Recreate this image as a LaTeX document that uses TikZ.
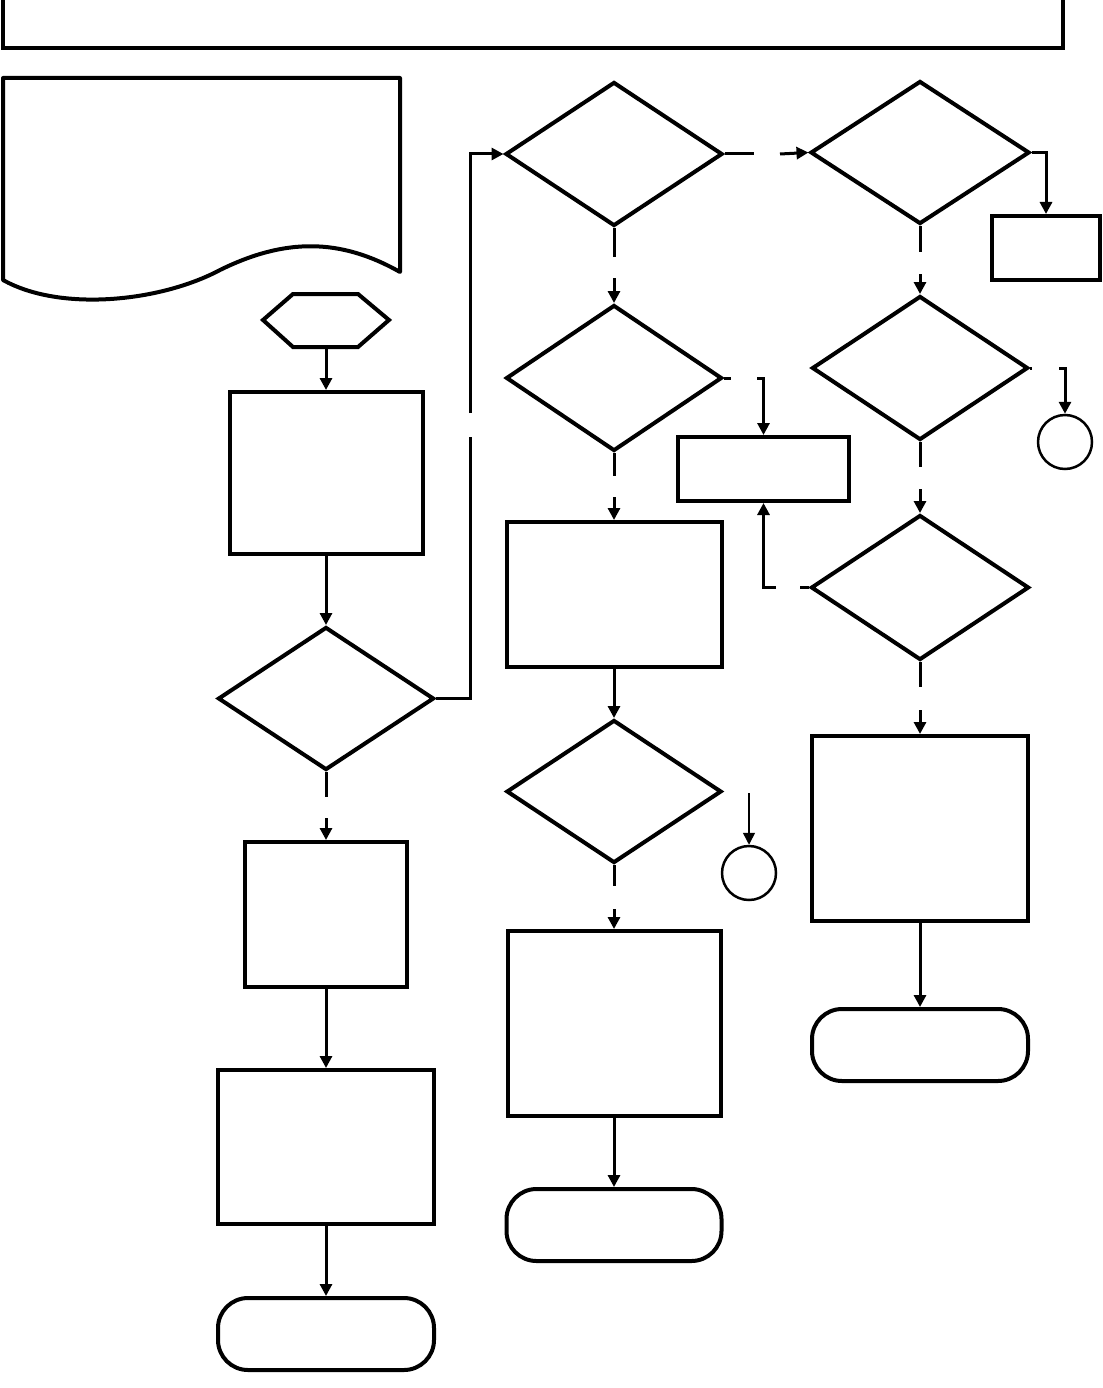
\documentclass[tikz,border=0pt]{standalone}
\usetikzlibrary{arrows.meta,shapes.geometric}
\begin{document}
\begin{tikzpicture}[x=1pt,y=-1pt,
  shp/.style={draw,line width=4pt,inner sep=0pt},
  procbox/.style={shp,rectangle,minimum width=#1},
  dec/.style={shp,diamond,minimum width=#1},
  term/.style={shp,rectangle,rounded corners=30pt,minimum width=#1},
  conn/.style={draw,circle,line width=2.5pt,minimum size=54pt,inner sep=0pt},
  ln/.style={line width=3pt},
  arr/.style={line width=3pt,-{Triangle[length=12pt,width=12pt]}},
  thinarr/.style={line width=1.5pt,-{Triangle[length=12pt,width=12pt]}}]
\useasboundingbox (0,0) rectangle (1102,1388);
% title box
\draw[line width=4pt] (3,-20) rectangle (1063,48);
% document shape
\draw[line width=4pt,line join=round] (3,78) -- (400,78) -- (400,272)
  .. controls (340,238) and (285,238) .. (220,270)
  .. controls (160,302) and (60,312) .. (3,280) -- cycle;
% hexagon
\draw[line width=4pt] (263,320) -- (293,294) -- (358,294) -- (389,320) -- (358,347) -- (293,347) -- cycle;
\coordinate (hexb) at (326,347);
% column 1
\node[procbox=193pt,minimum height=162pt] (r1) at (326,473) {};
\node[dec=216pt,minimum height=143pt] (d1) at (326,698.5) {};
\node[procbox=162pt,minimum height=145pt] (r2) at (326,914.5) {};
\node[procbox=216pt,minimum height=154pt] (r3) at (326,1147) {};
\node[term=216pt,minimum height=72pt] (t1) at (326,1334) {};
% column 2
\node[dec=217pt,minimum height=144pt] (d2) at (614,154) {};
\node[dec=216pt,minimum height=146pt] (d4) at (614,378) {};
\node[procbox=171pt,minimum height=64pt] (r4) at (763.5,469) {};
\node[procbox=215pt,minimum height=145pt] (r5) at (614,594.5) {};
\node[dec=215pt,minimum height=143pt] (d5) at (614,791.5) {};
\node[conn] (c1) at (749,873) {};
\node[procbox=213pt,minimum height=185pt] (r6) at (614,1023.5) {};
\node[term=215pt,minimum height=72pt] (t2) at (614,1225) {};
% column 3
\node[dec=219pt,minimum height=143pt] (d3) at (920,152.5) {};
\node[procbox=108pt,minimum height=64pt] (r7) at (1046,248) {};
\node[dec=216pt,minimum height=144pt] (d6) at (920,368) {};
\node[conn] (c2) at (1065,442) {};
\node[dec=218pt,minimum height=145pt] (d7) at (920,587.5) {};
\node[procbox=216pt,minimum height=185pt] (r8) at (920,828.5) {};
\node[term=216pt,minimum height=72pt] (t3) at (920,1045) {};
% gap coordinates
\coordinate (g1a) at (470,437); \coordinate (g1b) at (470,413);
\coordinate (g2a) at (326,797); \coordinate (g2b) at (326,818);
\coordinate (g3a) at (754,154); \coordinate (g3b) at (780,154);
\coordinate (g4a) at (614,257); \coordinate (g4b) at (614,278);
\coordinate (g5a) at (731,378); \coordinate (g5b) at (757,378);
\coordinate (g6a) at (614,476); \coordinate (g6b) at (614,497);
\coordinate (g7a) at (614,886); \coordinate (g7b) at (614,909);
\coordinate (g8) at (749,793);
\coordinate (g9a) at (920,252); \coordinate (g9b) at (920,274);
\coordinate (g10a) at (1032,368); \coordinate (g10b) at (1059,368);
\coordinate (g11a) at (920,467); \coordinate (g11b) at (920,489);
\coordinate (g12a) at (800,587.5); \coordinate (g12b) at (776,587.5);
\coordinate (g13a) at (920,687); \coordinate (g13b) at (920,710);
% connectors
\draw[arr] (hexb) -- (r1.north);
\draw[arr] (r1.south) -- (d1.north);
\draw[ln] (d1.east) -| (g1a);
\draw[arr] (g1b) |- (d2.west);
\draw[ln] (d1.south) -- (g2a);
\draw[arr] (g2b) -- (r2.north);
\draw[arr] (r2.south) -- (r3.north);
\draw[arr] (r3.south) -- (t1.north);
\draw[ln] (d2.east) -- (g3a);
\draw[arr] (g3b) -- (d3.west);
\draw[ln] (d2.south) -- (g4a);
\draw[arr] (g4b) -- (d4.north);
\draw[ln] (d4.east) -- (g5a);
\draw[arr] (g5b) -| (r4.north);
\draw[ln] (d4.south) -- (g6a);
\draw[arr] (g6b) -- (r5.north);
\draw[arr] (r5.south) -- (d5.north);
\draw[ln] (d5.south) -- (g7a);
\draw[arr] (g7b) -- (r6.north);
\draw[thinarr] (g8) -- (c1.north);
\draw[arr] (r6.south) -- (t2.north);
\draw[arr] (d3.east) -| (r7.north);
\draw[ln] (d3.south) -- (g9a);
\draw[arr] (g9b) -- (d6.north);
\draw[ln] (d6.east) -- (g10a);
\draw[arr] (g10b) -| (c2.north);
\draw[ln] (d6.south) -- (g11a);
\draw[arr] (g11b) -- (d7.north);
\draw[ln] (d7.west) -- (g12a);
\draw[arr] (g12b) -| (r4.south);
\draw[ln] (d7.south) -- (g13a);
\draw[arr] (g13b) -- (r8.north);
\draw[arr] (r8.south) -- (t3.north);
\end{tikzpicture}
\end{document}
